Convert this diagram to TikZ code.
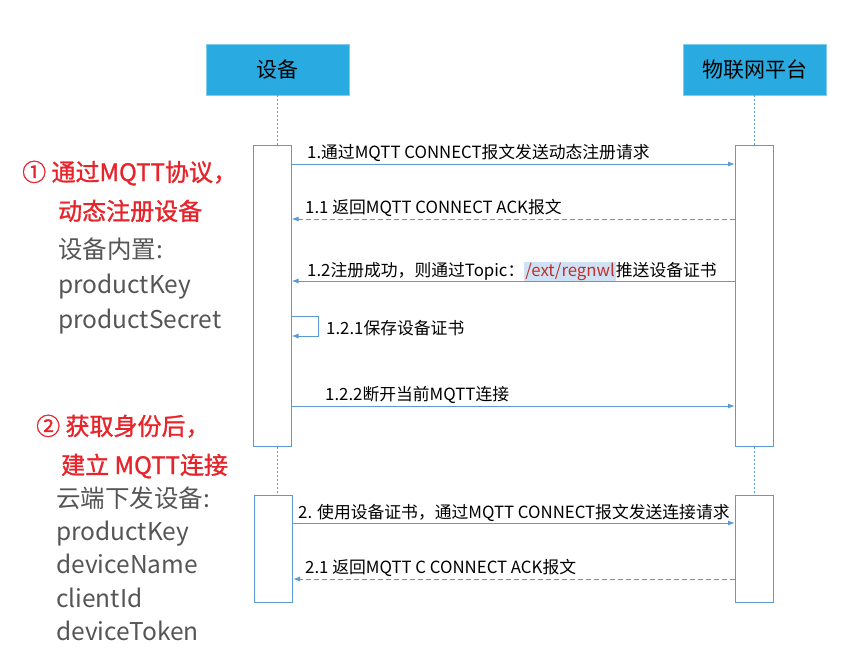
\documentclass[tikz,border=0pt]{standalone}
\usepackage{fontspec}
\setmainfont{Noto Sans CJK SC}
\newfontfamily\notefont{Noto Sans CJK SC}[FakeBold=1.2]
\usetikzlibrary{arrows.meta,positioning}

\definecolor{headblue}{HTML}{29ABE2}
\definecolor{lineblue}{HTML}{5B9BD5}
\definecolor{notered}{HTML}{E8242B}
\definecolor{notegray}{HTML}{555555}
\definecolor{topicred}{HTML}{C0302A}
\definecolor{topichl}{HTML}{CFE2F5}

\tikzset{
  head/.style={draw=headblue!60!white, fill=headblue, minimum width=143pt,
    minimum height=51pt, inner sep=0pt, font=\fontsize{21}{21}\selectfont},
  actbox/.style={draw=lineblue, line width=1pt, fill=white, minimum width=38pt, inner sep=0pt},
  life/.style={draw=lineblue, line width=0.8pt, dash pattern=on 2pt off 2pt},
  msg/.style={draw=lineblue, line width=1pt, -{Latex[length=7pt,width=5pt]}},
  reply/.style={msg, dash pattern=on 5pt off 3pt},
  msglabel/.style={anchor=base west, inner sep=0pt, font=\fontsize{16.8}{16.8}\selectfont},
  rednote/.style={anchor=base west, inner sep=0pt, text=notered,
    font=\fontsize{24}{24}\notefont},
  graynote/.style={anchor=base west, inner sep=0pt, text=notegray,
    font=\fontsize{24.5}{24.5}\selectfont},
}

\begin{document}
\begin{tikzpicture}[x=1pt,y=-1pt]
\useasboundingbox (0,0) rectangle (849,654);

% Lifeline heads
\node[head] (devhead) at (277.5,69.5) {设备};
\node[head] (plathead) at (754.5,69.5) {物联网平台};

% Activation boxes
\node[actbox, minimum height=301pt] (dev1) at (272,295.5) {};
\node[actbox, minimum height=301pt] (plat1) at (754.5,295.5) {};
\node[actbox, minimum height=107pt] (dev2) at (273.5,548.5) {};
\node[actbox, minimum height=107pt] (plat2) at (754.5,548.5) {};

% Lifelines
\draw[life] (devhead.south) -- (devhead.south |- dev1.north);
\draw[life] (plathead.south) -- (plathead.south |- plat1.north);
\draw[life] (devhead.south |- dev1.south) -- (devhead.south |- dev2.north);
\draw[life] (plathead.south |- plat1.south) -- (plathead.south |- plat2.north);

% Message levels
\coordinate (m1) at (0,164);
\coordinate (m11) at (0,219);
\coordinate (m12) at (0,281);
\coordinate (m121) at (0,316);
\coordinate (m122) at (0,406);
\coordinate (m2) at (0,523);
\coordinate (m21) at (0,579);

% Phase 1: dynamic registration
\draw[msg] (m1 -| dev1.east) -- (m1 -| plat1.west);
\node[msglabel] (l1) at (307,158) {1.通过MQTT CONNECT报文发送动态注册请求};

\draw[reply] (m11 -| plat1.west) -- (m11 -| dev1.east);
\node[msglabel] (l11) at (305,213) {1.1 返回MQTT CONNECT ACK报文};

\draw[msg] (m12 -| plat1.west) -- (m12 -| dev1.east);
\node[msglabel] (l12) at (307,276) {1.2注册成功，则通过Topic：\setlength\fboxsep{1pt}\colorbox{topichl}{\textcolor{topicred}{/ext/regnwl}}推送设备证书};

\draw[msg] (m121 -| dev1.east) -| ++(27,20) -- ++(-27,0);
\node[msglabel] (l121) at (326,334) {1.2.1保存设备证书};

\draw[msg] (m122 -| dev1.east) -- (m122 -| plat1.west);
\node[msglabel] (l122) at (325,400) {1.2.2断开当前MQTT连接};

% Phase 2: connect
\draw[msg] (m2 -| dev2.east) -- (m2 -| plat2.west);
\node[msglabel] (l2) at (298,518) {2. 使用设备证书，通过MQTT CONNECT报文发送连接请求};

\draw[reply] (m21 -| plat2.west) -- (m21 -| dev2.east);
\node[msglabel] (l21) at (305,573) {2.1 返回MQTT C CONNECT ACK报文};

% Notes on the left
\node[rednote] (n1a) at (22,181) {① 通过MQTT协议，};
\node[rednote] (n1b) at (58,220) {动态注册设备};
\node[graynote] (n1c) at (58,258) {设备内置:};
\node[graynote] (n1d) at (58,293) {productKey};
\node[graynote] (n1e) at (58,328) {productSecret};

\node[rednote] (n2a) at (36,435) {② 获取身份后，};
\node[rednote] (n2b) at (61,474) {建立 MQTT连接};
\node[graynote] (n2c) at (56,507) {云端下发设备:};
\node[graynote] (n2d) at (56,540) {productKey};
\node[graynote] (n2e) at (56,573) {deviceName};
\node[graynote] (n2f) at (56,607) {clientId};
\node[graynote] (n2g) at (56,640) {deviceToken};

\end{tikzpicture}
\end{document}
